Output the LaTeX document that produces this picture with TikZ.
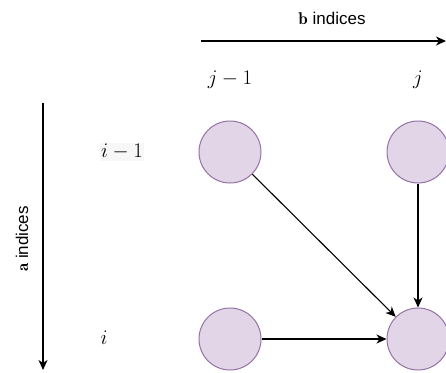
\documentclass[tikz,border=0pt]{standalone}
\usepackage{fontspec}
\setsansfont{Liberation Sans}
\usetikzlibrary{arrows.meta}
\begin{document}
\begin{tikzpicture}[x=1pt,y=-1pt,
  cell/.style={circle,draw={rgb,255:red,150;green,115;blue,166},fill={rgb,255:red,225;green,213;blue,231},line width=1pt,minimum size=62pt,inner sep=0pt},
  arr/.style={line width=1.1pt,-{Stealth[length=10pt,width=9pt,inset=3pt]}},
  lbl/.style={font=\fontsize{20pt}{24pt}\selectfont,inner sep=1pt},
  axlbl/.style={font=\sffamily\fontsize{17pt}{20pt}\selectfont,inner sep=1pt}]
\useasboundingbox[fill=white] (0,0) rectangle (446,372);
\node[cell] (a) at (230,152) {};
\node[cell] (b) at (418,152) {};
\node[cell] (c) at (230,339) {};
\node[cell] (d) at (418,339) {};
\draw[arr] (a) -- (d);
\draw[arr] (b) -- (d);
\draw[arr] (c) -- (d);
\coordinate (bs) at (201,41);
\coordinate (be) at (446,41);
\draw[arr] (bs) -- (be);
\node[axlbl] (bl) at (332,18) {$\mathbf{b}$ indices};
\coordinate (as) at (43,103);
\coordinate (ae) at (43,370);
\draw[arr] (as) -- (ae);
\node[axlbl,rotate=90] (al) at (22,239) {$\mathbf{a}$ indices};
\node[lbl] (j1) at (230,80) {$j-1$};
\node[lbl] (j) at (418,80) {$j$};
\node[lbl,fill=gray!6] (i1) at (122,152) {$i-1$};
\node[lbl] (i) at (104,338) {$i$};
\end{tikzpicture}
\end{document}
